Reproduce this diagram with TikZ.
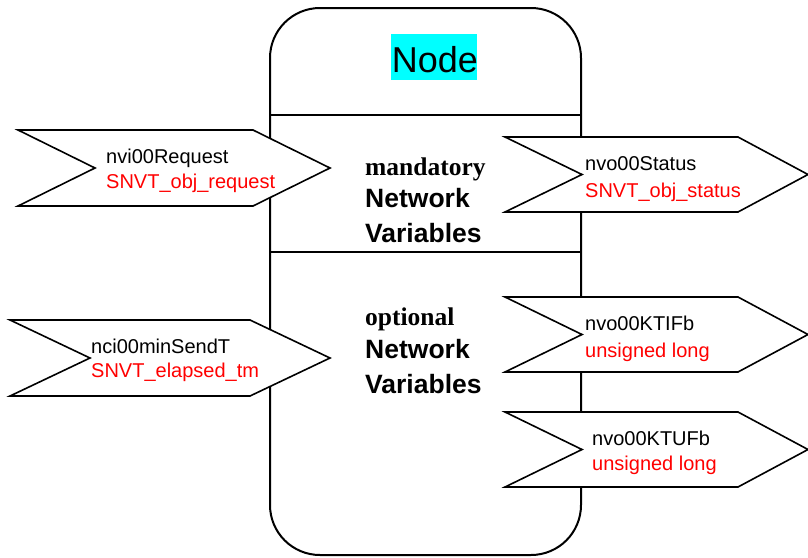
\documentclass[tikz,border=0pt]{standalone}
\usepackage{fontspec}
\setmainfont{Liberation Sans}
\newfontfamily\serifbold{Liberation Serif}
\definecolor{nodecyan}{RGB}{0,255,255}
\definecolor{typered}{RGB}{255,0,0}
\tikzset{
  boxline/.style={line width=2pt, black},
  chevron/.style={line width=1.6pt, black, fill=white, line join=miter},
  nvname/.style={anchor=base west, inner sep=0pt, font=\fontsize{20}{22}\selectfont, text=black},
  nvtype/.style={anchor=base west, inner sep=0pt, font=\fontsize{20}{22}\selectfont, text=typered},
  sectitle/.style={anchor=base west, inner sep=0pt, font=\fontsize{25.5}{28}\serifbold\bfseries},
  secsub/.style={anchor=base west, inner sep=0pt, font=\fontsize{26.5}{28}\selectfont\bfseries},
}
% chevron: left x, top-right x, tip x, notch x, top y, bottom y
\newcommand{\mychev}[6]{%
  \draw[chevron] (#1,#5) -- (#2,#5) -- (#3,{(#5+#6)/2}) -- (#2,#6) -- (#1,#6) -- (#4,{(#5+#6)/2}) -- cycle;}
\begin{document}
\begin{tikzpicture}[x=1pt,y=-1pt]
\useasboundingbox (0,0) rectangle (808,557);
% main node body
\draw[boxline, rounded corners=50pt] (270,8) rectangle (581,555);
\draw[boxline] (270,115) -- (581,115);
\draw[boxline] (270,252) -- (581,252);
% title
\fill[nodecyan] (391,34) rectangle (477,80);
\node[anchor=base, inner sep=0pt, font=\fontsize{36}{40}\selectfont] (title) at (435,72) {Node};
% section labels
\node[sectitle] (mand) at (365,175) {mandatory};
\node[secsub] (mandA) at (365,207) {Network};
\node[secsub] (mandB) at (365,242) {Variables};
\node[sectitle] (opt) at (365,325) {optional};
\node[secsub] (optA) at (365,358) {Network};
\node[secsub] (optB) at (365,393) {Variables};
% input chevrons
\mychev{18}{253}{330}{95}{130}{206}
\node[nvname] (in1) at (106,163) {nvi00Request};
\node[nvtype] (in1t) at (106,188) {SNVT\_obj\_request};
\mychev{10}{250}{330}{90}{320}{396}
\node[nvname] (in2) at (91,353) {nci00minSendT};
\node[nvtype] (in2t) at (91,377) {SNVT\_elapsed\_tm};
% output chevrons
\mychev{505}{738}{808}{582}{137}{212}
\node[nvname] (out1) at (585,170) {nvo00Status};
\node[nvtype] (out1t) at (585,197) {SNVT\_obj\_status};
\mychev{505}{738}{808}{582}{297}{372}
\node[nvname] (out2) at (585,330) {nvo00KTIFb};
\node[nvtype] (out2t) at (585,357) {unsigned long};
\mychev{505}{738}{808}{582}{412}{487}
\node[nvname] (out3) at (592,445) {nvo00KTUFb};
\node[nvtype] (out3t) at (592,470) {unsigned long};
\end{tikzpicture}
\end{document}
